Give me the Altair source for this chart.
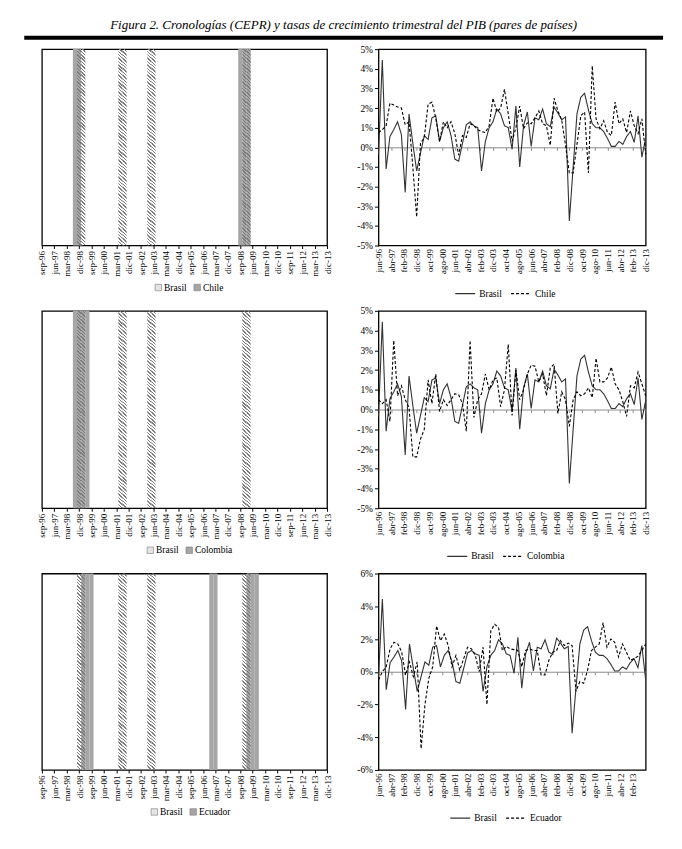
import json
import altair as alt
import pandas as pd

SERIF = "Liberation Serif"

# ---------------- categories / tick labels ----------------
meses = ["mar", "jun", "sep", "dic"]
trimestres = [f"{m}-{str(a)[2:]}" for a in range(1996, 2014) for m in meses]
crono_q = trimestres[trimestres.index("sep-96"):]   # chronology panels: sep-96 .. dic-13
serie_q = trimestres[trimestres.index("jun-96"):]   # growth panels: jun-96 .. dic-13

left_ticks = ["sep-96", "jun-97", "mar-98", "dic-98", "sep-99", "jun-00", "mar-01", "dic-01",
              "sep-02", "jun-03", "mar-04", "dic-04", "sep-05", "jun-06", "mar-07", "dic-07",
              "sep-08", "jun-09", "mar-10", "dic-10", "sep-11", "jun-12", "mar-13", "dic-13"]
right_ticks = ["jun-96", "abr-97", "feb-98", "dic-98", "oct-99", "ago-00", "jun-01", "abr-02",
               "feb-03", "dic-03", "oct-04", "ago-05", "jun-06", "abr-07", "feb-08", "dic-08",
               "oct-09", "ago-10", "jun-11", "abr-12", "feb-13", "dic-13"]

# ---------------- recession chronologies (CEPR) ----------------
rec_brasil = ["dic-98", "mar-99", "jun-01", "sep-01", "mar-03", "jun-03", "dic-08", "mar-09"]
rec_chile = ["sep-98", "dic-98", "sep-08", "dic-08", "mar-09"]
rec_colombia = ["sep-98", "dic-98", "mar-99", "jun-99"]
rec_ecuador = ["mar-99", "jun-99", "sep-99", "dic-06", "mar-07", "mar-09", "jun-09", "sep-09"]

# ---------------- quarterly GDP growth (%) ----------------
pib_brasil = [-0.35, 4.45, -1.1, 0.55, 0.9, 1.3, 0.65, -2.3, 1.7, 0.2,
              -1.2, -0.3, 0.6, 0.4, 1.5, 1.6, 0.3, 1.0, 1.3, 0.6,
              -0.6, -0.7, 0.2, 1.15, 1.3, 1.1, 1.0, -1.2, 0.3, 1.0,
              1.3, 1.95, 1.7, 1.1, 1.0, -0.1, 2.1, -1.0, 1.1, 1.8,
              0.05, 1.5, 1.4, 1.95, 1.2, 1.05, 2.05, 1.75, 1.4, 1.55,
              -3.75, -1.0, 1.7, 2.55, 2.75, 1.9, 1.2, 1.0, 1.0, 0.8,
              0.45, 0.05, 0.05, 0.3, 0.15, 0.55, 0.8, 0.25, 1.6, -0.5, 0.45]
pib_chile = [0.75, 0.9, 1.1, 2.25, 2.15, 2.05, 2.0, 1.15, 1.3, -1.0,
             -3.55, 0.2, 0.5, 2.2, 2.3, 1.5, 0.3, 1.3, 1.0, 1.3,
             0.7, -0.4, 0.6, 0.5, 1.2, 1.1, 0.9, 0.8, 0.75, 1.1,
             2.5, 1.8, 2.0, 2.95, 1.7, 0.3, 1.0, 2.1, 0.95, 1.25,
             1.2, 1.5, 1.85, 1.2, 1.1, 0.1, 2.5, 1.85, 1.4, 0.1,
             -1.3, -1.3, 0.15, 1.6, 1.8, -1.3, 4.15, 1.45, 0.95, 1.35,
             0.75, 0.6, 2.3, 1.2, 1.45, 0.75, 1.85, 1.1, 0.7, 1.45, -0.35]
pib_colombia = [0.5, 0.3, 0.5, -0.6, 3.5, 0.7, 1.2, 0.5, 0.1, -2.4,
                -2.4, -1.5, -1.0, 1.5, 0.3, 1.8, -0.1, 0.5, 0.2, 0.5,
                0.8, 0.75, 0.3, -1.1, 3.5, -0.4, 0.5, 0.8, 1.8, 1.0,
                1.5, 1.6, 0.15, 1.0, 3.3, -0.3, 2.0, 0.5, 1.0, 1.8,
                2.25, 2.2, 1.4, 1.8, 0.7, 2.1, 2.3, -0.2, 0.9, 0.5,
                -0.85, 0.5, 0.9, 0.7, 0.8, 1.1, 0.6, 2.6, 1.4, 1.4,
                1.6, 2.15, 1.3, 1.0, 0.4, -0.35, 1.2, 1.1, 1.9, 1.3, 0.7]
pib_ecuador = [-0.5, 0.0, 0.3, 1.4, 1.8, 1.7, 1.2, -0.2, 0.6, -0.3,
               0.6, -4.7, -2.0, -0.4, 0.3, 2.8, 1.9, 2.3, 1.6, 0.3,
               1.0, 0.1, 0.8, 1.5, 1.4, 1.0, 0.0, 1.5, -2.0, 2.5,
               2.9, 2.7, 1.3, 1.55, 1.4, 1.35, 1.3, 0.3, 1.3, 1.4,
               1.3, 1.3, -0.2, -0.2, 0.7, 1.2, 1.3, 1.9, 1.6, 1.75,
               1.6, -1.2, -0.6, -0.7, 0.1, 1.3, 1.5, 1.7, 3.0, 1.5,
               2.0, 1.8, 0.9, 1.7, 1.2, 0.7, 0.8, 0.95, 1.3, 1.7]

# ---------------- layout ----------------
W_L, W_R = 286, 268
HEIGHTS = [197, 198, 197]
GAP_X, GAP_Y = 51.6, 65.5
N_L = len(crono_q) - 1          # 69 category steps
MONTHS = 210                    # jun-96 .. dic-13


def hatch(w, h, period=3.4, frac=0.42, color="#7c7c7c"):
    """Diagonal stripe fill for a w x h bar, built as a linear gradient."""
    r = h / w
    s = (1 + r) / (1 + r * r)
    n = int(round((w + h) / period))
    clear = "rgba(255,255,255,0)"
    stops = []
    for k in range(n):
        a, b, c = k / n, (k + frac) / n, (k + 1) / n
        stops += [alt.GradientStop(offset=round(a, 5), color=color),
                  alt.GradientStop(offset=round(b, 5), color=color),
                  alt.GradientStop(offset=round(b, 5), color=clear),
                  alt.GradientStop(offset=round(c, 5), color=clear)]
    return alt.LinearGradient(gradient="linear", stops=stops,
                              x1=0, y1=1, x2=round(s, 6), y2=round(1 - s * r, 6))


def left_panel(other, rec_other, h, legend_x, with_rule=False):
    df_b = pd.DataFrame({"i": [crono_q.index(q) for q in rec_brasil], "pais": "Brasil"})
    df_o = pd.DataFrame({"i": [crono_q.index(q) for q in rec_other], "pais": other})
    xs = alt.Scale(domain=[0, N_L], nice=False, zero=False)
    ys = alt.Scale(domain=[0, 1], nice=False)
    xaxis = alt.Axis(values=list(range(0, N_L + 1, 3)),
                     labelExpr=f"{json.dumps(left_ticks)}[round(datum.value / 3)]",
                     labelAngle=270, labelFont=SERIF, labelFontSize=9, labelColor="black",
                     labelPadding=2, labelOverlap=False, labelFlush=False,
                     ticks=True, tickSize=3, tickColor="black", domain=False, grid=False, title=None)

    def bars(df):
        return alt.Chart(df).transform_calculate(
            x0="datum.i - 0.5", x1="datum.i + 0.5", lo="0", hi="1")

    other_bars = bars(df_o).mark_rect(strokeWidth=0).encode(
        x=alt.X("x0:Q", scale=xs, axis=xaxis), x2="x1:Q",
        y=alt.Y("lo:Q", scale=ys, axis=None), y2="hi:Q",
        fill=alt.Fill("pais:N",
                      scale=alt.Scale(domain=["Brasil", other], range=["#e4e4e4", "#a6a6a6"]),
                      legend=alt.Legend(orient="none", legendX=legend_x, legendY=h + 37,
                                        direction="horizontal", title=None, symbolType="square",
                                        symbolSize=42, symbolStrokeColor="#7a7a7a",
                                        symbolStrokeWidth=0.6, labelFont=SERIF, labelFontSize=9.5,
                                        labelColor="black", labelOffset=1, columnPadding=5)))
    bra_bars = bars(df_b).mark_rect(fill=hatch(W_L / N_L, h), strokeWidth=0).encode(
        x=alt.X("x0:Q", scale=xs, axis=xaxis), x2="x1:Q",
        y=alt.Y("lo:Q", scale=ys, axis=None), y2="hi:Q")
    layers = [other_bars, bra_bars]
    if with_rule:
        rule = alt.Chart(pd.DataFrame({"a": [0]})).mark_rule(color="black", strokeWidth=4).encode(
            x=alt.value(-17.7), x2=alt.value(623), y=alt.value(-11.3))
        layers.append(rule)
    return alt.layer(*layers).properties(width=W_L, height=h)


def right_panel(other, pib_other, h, ymax, ystep, legend_x):
    n = len(pib_other)
    step = MONTHS / (n - 1)
    xs_vals = [q * step for q in range(n)]
    df = pd.DataFrame({
        "x": xs_vals + xs_vals,
        "v": pib_brasil[:n] + pib_other,
        "serie": ["Brasil"] * n + [other] * n,
        "fecha": serie_q[:n] + serie_q[:n],
    })
    tick_vals = [k * 10 for k in range(22) if k * 10 <= xs_vals[-1] + 0.01]
    if n < len(pib_brasil):
        tick_vals = tick_vals[:-1]
    xs = alt.Scale(domain=[0, MONTHS], nice=False, zero=False)
    ys = alt.Scale(domain=[-ymax, ymax], nice=False)
    xaxis = alt.Axis(orient="bottom", values=tick_vals,
                     labelExpr=f"{json.dumps(right_ticks)}[round(datum.value / 10)]",
                     labelAngle=270, labelFont=SERIF, labelFontSize=9, labelColor="black",
                     labelPadding=3, labelOverlap=False, labelFlush=False,
                     ticks=False, domain=False, grid=False, title=None)
    yaxis = alt.Axis(orient="left", values=list(range(-ymax, ymax + 1, ystep)),
                     labelExpr="datum.value + '%'",
                     labelFont=SERIF, labelFontSize=9.5, labelColor="black", labelPadding=2,
                     ticks=True, tickSize=4, tickColor="black", domain=False, grid=False,
                     title=None, labelOverlap=False, labelFlush=False)
    zero_axis = alt.Axis(orient="bottom", offset=-h / 2, values=tick_vals, labels=False,
                         ticks=True, tickSize=3, tickColor="#8c8c8c", domain=True,
                         domainColor="#8c8c8c", domainWidth=1, grid=False, title=None)
    leg = alt.Legend(orient="none", legendX=legend_x, legendY=h + 37, direction="horizontal",
                     title=None, symbolType="stroke", symbolSize=400, symbolStrokeWidth=1.2,
                     labelFont=SERIF, labelFontSize=9.5, labelColor="black", labelOffset=3,
                     columnPadding=6)
    dom = ["Brasil", other]
    zero = alt.Chart(df).mark_point(opacity=0).encode(
        x=alt.X("x:Q", scale=xs, axis=zero_axis),
        y=alt.Y("v:Q", scale=ys, axis=yaxis))
    lines = alt.Chart(df).mark_line(strokeWidth=1.1).encode(
        x=alt.X("x:Q", scale=xs, axis=xaxis),
        y=alt.Y("v:Q", scale=ys, axis=yaxis),
        color=alt.Color("serie:N", scale=alt.Scale(domain=dom, range=["#333333", "#000000"]),
                        legend=leg),
        strokeDash=alt.StrokeDash("serie:N", scale=alt.Scale(domain=dom, range=[[1, 0], [3, 2]]),
                                  legend=leg),
        order="x:Q")
    return alt.layer(zero, lines).resolve_axis(x="independent").properties(width=W_R, height=h)


panels = [
    left_panel("Chile", rec_chile, HEIGHTS[0], 112, with_rule=True),
    right_panel("Chile", pib_chile, HEIGHTS[0], 5, 1, 76),
    left_panel("Colombia", rec_colombia, HEIGHTS[1], 104),
    right_panel("Colombia", pib_colombia, HEIGHTS[1], 5, 1, 68),
    left_panel("Ecuador", rec_ecuador, HEIGHTS[2], 108),
    right_panel("Ecuador", pib_ecuador, HEIGHTS[2], 6, 2, 71),
]

chart = alt.concat(
    *panels, columns=2, spacing={"row": GAP_Y, "column": GAP_X}, bounds="flush",
).resolve_scale(x="independent", y="independent", fill="independent",
                color="independent", strokeDash="independent"
).resolve_legend(fill="independent", color="independent", strokeDash="independent"
).properties(
    title=alt.TitleParams(
        "Figura 2. Cronologías (CEPR) y tasas de crecimiento trimestral del PIB (pares de países)",
        font=SERIF, fontSize=13, fontStyle="italic", fontWeight="normal", color="black",
        anchor="middle", offset=3),
    padding={"left": 13, "top": 10, "right": 8, "bottom": 8},
    background="white",
).configure_view(stroke="#000000", strokeWidth=1.3, strokeOpacity=1)

chart.save("out.html", embed_options={"renderer": "svg", "actions": False})
